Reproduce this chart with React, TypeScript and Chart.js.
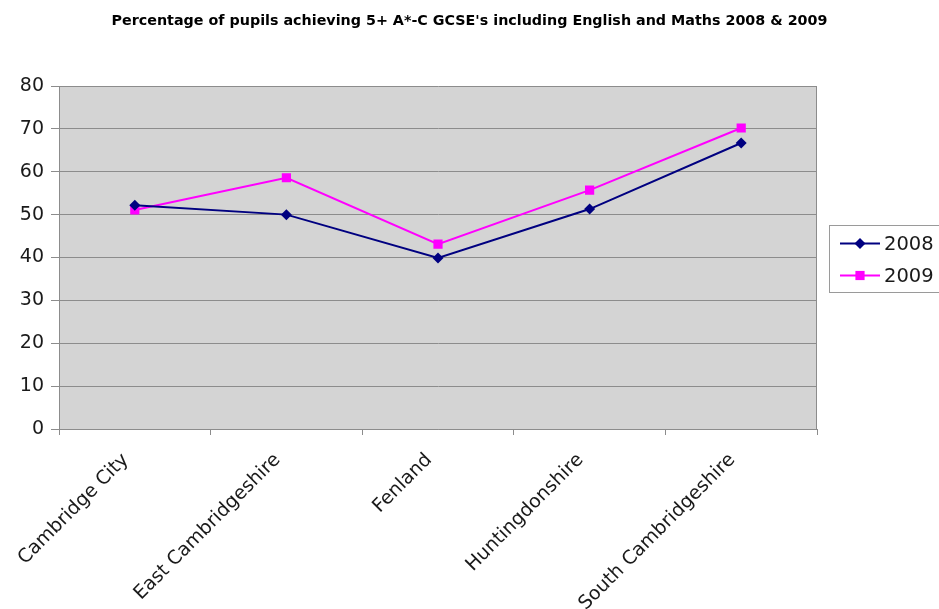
import { useEffect, useRef } from "react";
import { Chart, registerables } from "chart.js";

Chart.register(...registerables);

const TITLE =
  "Percentage of pupils achieving 5+ A*-C GCSE's including English and Maths 2008 & 2009";
const categories = [
  "Cambridge City",
  "East Cambridgeshire",
  "Fenland",
  "Huntingdonshire",
  "South Cambridgeshire",
];
const seriesLabels = ["2008", "2009"];
const values2008 = [52.2, 50.0, 39.9, 51.3, 66.7];
const values2009 = [51.1, 58.6, 43.1, 55.7, 70.2];
const yMin = 0;
const yMax = 80;
const yStep = 10;

const NAVY = "#000080";
const MAGENTA = "#ff00ff";
const TEXT = "#1a1a1a";
const GRID = "#8c8c8c";
const PLOT_BG = "#d4d4d4";
const FONT = "'DejaVu Sans', sans-serif";

function drawMarker(ctx: CanvasRenderingContext2D, style: string, x: number, y: number, color: string) {
  ctx.save();
  ctx.fillStyle = color;
  ctx.beginPath();
  if (style === "rectRot") {
    const r = 5.5;
    ctx.moveTo(x - r, y);
    ctx.lineTo(x, y - r);
    ctx.lineTo(x + r, y);
    ctx.lineTo(x, y + r);
    ctx.closePath();
  } else {
    const s = 4.6;
    ctx.rect(x - s, y - s, 2 * s, 2 * s);
  }
  ctx.fill();
  ctx.restore();
}

const plotPlugin = {
  id: "plotDecor",
  beforeDraw(chart: any) {
    const { ctx, chartArea: a } = chart;
    ctx.save();
    ctx.fillStyle = PLOT_BG;
    ctx.fillRect(a.left, a.top, a.right - a.left, a.bottom - a.top);
    ctx.restore();
  },
  beforeDatasetsDraw(chart: any) {
    const { ctx, chartArea: a } = chart;
    ctx.save();
    ctx.strokeStyle = GRID;
    ctx.lineWidth = 1;
    ctx.beginPath();
    ctx.moveTo(Math.round(a.right) - 0.5, a.top);
    ctx.lineTo(Math.round(a.right) - 0.5, a.bottom);
    ctx.stroke();
    ctx.restore();
  },
  afterDraw(chart: any) {
    const { ctx, chartArea: a, width } = chart;
    ctx.save();
    // title, centred on the whole canvas
    ctx.fillStyle = "#000";
    ctx.font = `bold 14.3px ${FONT}`;
    ctx.textAlign = "center";
    ctx.textBaseline = "middle";
    ctx.fillText(TITLE, width / 2, 21);

    // legend
    const cy = (a.top + a.bottom) / 2;
    const boxLeft = a.right + 12;
    const boxTop = cy - 33;
    const boxH = 67;
    ctx.strokeStyle = "#9a9a9a";
    ctx.lineWidth = 1;
    ctx.strokeRect(Math.round(boxLeft) + 0.5, Math.round(boxTop) + 0.5, 140, boxH);
    const items = chart.data.datasets;
    items.forEach((ds: any, i: number) => {
      const y = boxTop + 19 + i * 32;
      const x0 = boxLeft + 11;
      ctx.strokeStyle = ds.borderColor;
      ctx.lineWidth = 2;
      ctx.beginPath();
      ctx.moveTo(x0, y);
      ctx.lineTo(x0 + 40, y);
      ctx.stroke();
      drawMarker(ctx, ds.pointStyle, x0 + 20, y, ds.borderColor);
      ctx.fillStyle = TEXT;
      ctx.font = `19.5px ${FONT}`;
      ctx.textBaseline = "middle";
      ctx.textAlign = "left";
      ctx.fillText(ds.label, x0 + 44, y + 1);
    });
    ctx.restore();
  },
};

export default function App() {
  const ref = useRef<HTMLCanvasElement | null>(null);

  useEffect(() => {
    if (!ref.current) return;
    const chart = new Chart(ref.current, {
      type: "line",
      data: {
        labels: categories,
        datasets: [
          {
            label: seriesLabels[0],
            data: values2008,
            borderColor: NAVY,
            backgroundColor: NAVY,
            borderWidth: 2,
            pointStyle: "rectRot",
            pointRadius: 5.5,
            pointBorderWidth: 0,
            tension: 0,
          },
          {
            label: seriesLabels[1],
            data: values2009,
            borderColor: MAGENTA,
            backgroundColor: MAGENTA,
            borderWidth: 2,
            pointStyle: "rect",
            pointRadius: 6.5,
            pointBorderWidth: 0,
            tension: 0,
          },
        ],
      },
      options: {
        responsive: false,
        animation: false,
        devicePixelRatio: 1,
        layout: { padding: { left: 0, right: 122, top: 86, bottom: 0 } },
        plugins: {
          legend: { display: false },
          tooltip: { enabled: false },
          title: { display: false },
        },
        scales: {
          x: {
            offset: true,
            grid: {
              offset: true,
              drawOnChartArea: false,
              drawTicks: true,
              tickLength: 6,
              color: GRID,
            },
            border: { color: GRID },
            ticks: {
              maxRotation: 45,
              minRotation: 45,
              autoSkip: false,
              color: TEXT,
              font: { family: FONT, size: 19 },
              padding: 14,
              labelOffset: -9,
            },
            afterFit: (s: any) => {
              s.height = 180;
            },
          },
          y: {
            min: yMin,
            max: yMax,
            ticks: {
              stepSize: yStep,
              color: TEXT,
              font: { family: FONT, size: 19 },
              padding: 7,
            },
            grid: { color: GRID, tickLength: 8 },
            border: { color: GRID },
            afterFit: (s: any) => {
              s.width = 59;
            },
          },
        },
      },
      plugins: [plotPlugin],
    });
    return () => chart.destroy();
  }, []);

  return (
    <div style={{ position: "absolute", left: 0, top: 0, width: 939, height: 609, background: "#fff" }}>
      <canvas ref={ref} width={939} height={609} style={{ width: 939, height: 609, display: "block" }} />
    </div>
  );
}
